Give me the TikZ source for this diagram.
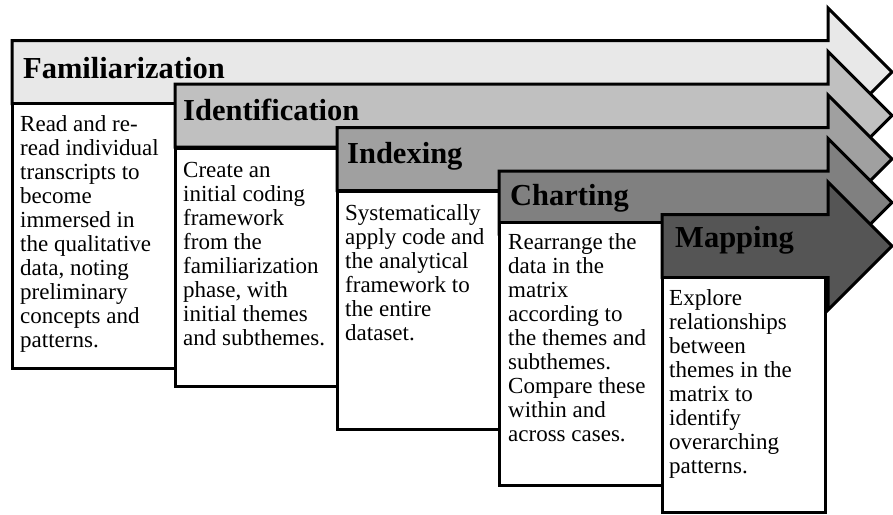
\documentclass[tikz,border=0pt]{standalone}
\usepackage{fontspec}
\setmainfont{Liberation Serif}
\definecolor{cFam}{RGB}{232,232,232}
\definecolor{cIde}{RGB}{192,192,192}
\definecolor{cInd}{RGB}{160,160,160}
\definecolor{cCha}{RGB}{128,128,128}
\definecolor{cMap}{RGB}{85,85,85}
\tikzset{
  stagearrow/.style={draw=black, line width=3pt, line join=miter},
  stagebox/.style={draw=black, fill=white, line width=3pt, line join=miter},
  stagetitle/.style={anchor=base west, inner sep=0pt, font=\fontsize{30.5}{34}\selectfont\bfseries},
  stagetext/.style={anchor=base west, inner sep=0pt, font=\fontsize{23}{24}\selectfont},
}
\newcommand{\stageshape}[3]{% #1 left x, #2 centre y, #3 colour
  \draw[stagearrow, fill=#3] (#1,#2-31.5) -- (828,#2-31.5) -- (828,#2-64) -- (892,#2)
    -- (828,#2+64) -- (828,#2+31.5) -- (#1,#2+31.5) -- cycle;}
\newcommand{\lines}[1]{\begin{tabular}[t]{@{}l@{}}#1\end{tabular}}
\begin{document}
\begin{tikzpicture}[x=1pt,y=-1pt]
\useasboundingbox (0,0) rectangle (893,514);
% Familiarization
\stageshape{12}{72}{cFam}
\node[stagetitle] (t1) at (23,78) {Familiarization};
\draw[stagebox] (12,103) rectangle (175,368);
\node[stagetext] (b1) at (20,131) {\lines{Read and re-\\read individual\\transcripts to\\become\\immersed in\\the qualitative\\data, noting\\preliminary\\concepts and\\patterns.}};
% Identification
\stageshape{175}{115.5}{cIde}
\node[stagetitle] (t2) at (183,120) {Identification};
\draw[stagebox] (175,148) rectangle (337,386);
\node[stagetext] (b2) at (183,177) {\lines{Create an\\initial coding\\framework\\from the\\familiarization\\phase, with\\initial themes\\and subthemes.}};
% Indexing
\stageshape{337}{159}{cInd}
\node[stagetitle] (t3) at (347,163) {Indexing};
\draw[stagebox] (337,191) rectangle (499,429);
\node[stagetext] (b3) at (345,220) {\lines{Systematically\\apply code and\\the analytical\\framework to\\the entire\\dataset.}};
% Charting
\stageshape{499}{202.5}{cCha}
\node[stagetitle] (t4) at (510,205) {Charting};
\draw[stagebox] (499,222) rectangle (662,485);
\node[stagetext] (b4) at (508,249) {\lines{Rearrange the\\data in the\\matrix\\according to\\the themes and\\subthemes.\\Compare these\\within and\\across cases.}};
% Mapping
\stageshape{662}{246}{cMap}
\node[stagetitle] (t5) at (675,247) {Mapping};
\draw[stagebox] (662,277) rectangle (825,512);
\node[stagetext] (b5) at (669,305) {\lines{Explore\\relationships\\between\\themes in the\\matrix to\\identify\\overarching\\patterns.}};
\end{tikzpicture}
\end{document}
